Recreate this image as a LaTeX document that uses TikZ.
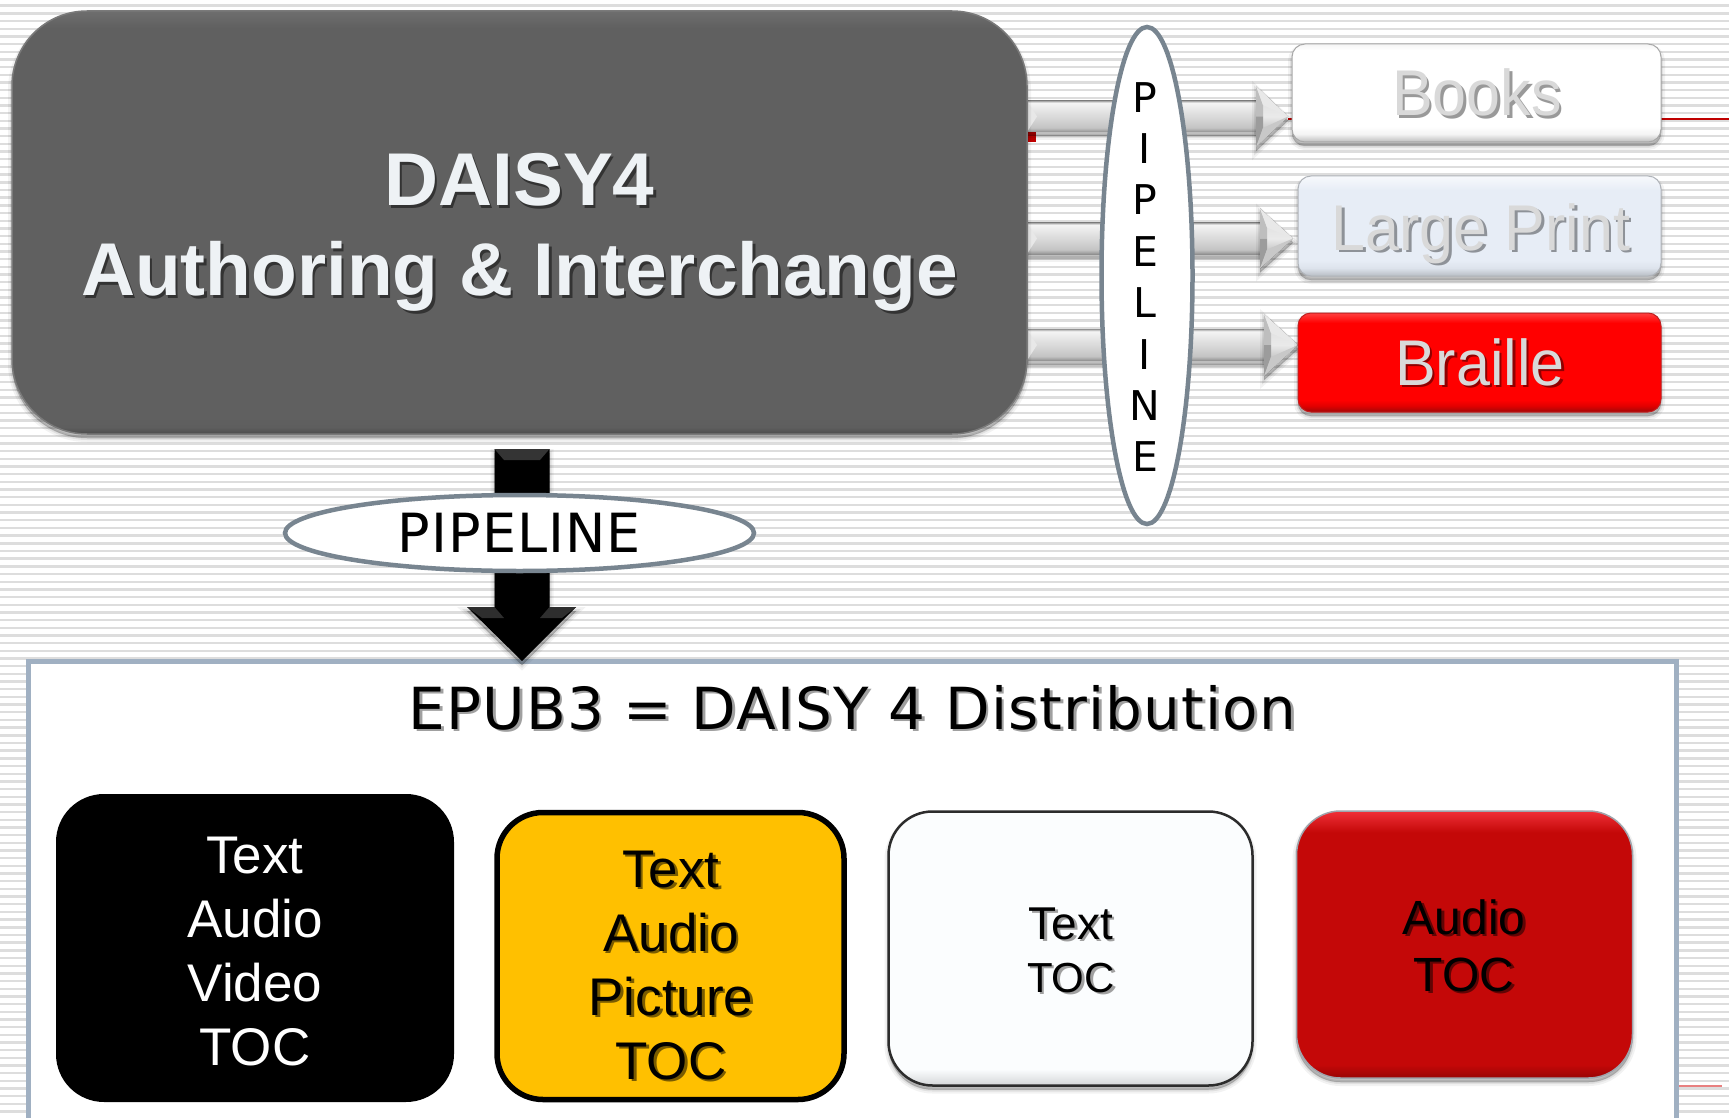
\documentclass[tikz,border=0pt]{standalone}
\usepackage{fontspec}
\setmainfont{Liberation Sans}
\newfontfamily\lucidalike{DejaVu Sans}
\newfontfamily\lucidaspaced[LetterSpace=2]{DejaVu Sans}
\usetikzlibrary{shapes.geometric,calc}
\newcommand{\dc}[1]{\definecolor{c#1}{HTML}{#1}}
\dc{4C4C4C}\dc{5E5E5E}\dc{606060}\dc{6E6E6E}\dc{BDBDBD}\dc{F4F4F4}\dc{FFFFFF}\dc{B8BDC4}\dc{DDE3EC}\dc{E7EDF6}\dc{F7F9FC}
\dc{A00808}\dc{E00000}\dc{FF0000}\dc{FF4040}\dc{980404}\dc{C40808}\dc{F03038}\dc{D4D6D8}\dc{FBFDFE}
\dc{909090}\dc{A8A8A8}\dc{C4C4C4}\dc{C8C8C8}\dc{AAAAAA}\dc{A0A0A0}\dc{C0C0C0}\dc{EAEAEA}\dc{D8D8D8}\dc{BEBEBE}\dc{9C9C9C}\dc{E8E8E8}
\dc{DDDDDD}\dc{A0B0C2}\dc{788590}\dc{D9D9D9}\dc{EEF2F5}\dc{C00000}
\dc{E88080}\dc{343434}\dc{2E2E2E}\dc{7A7A7A}\dc{FFC000}\dc{2C2C2C}\dc{A0A4AC}\dc{B0B4BA}\dc{C02020}
\dc{333333}\dc{8E9298}\dc{900000}\dc{7A5C00}\dc{600404}\dc{999999}
\colorlet{shcol}{gray}
\pgfdeclareverticalshading{mainshade}{100bp}{color(0bp)=(c4C4C4C);color(25bp)=(c4C4C4C);color(25.8bp)=(c5E5E5E);color(27bp)=(c606060);color(73bp)=(c606060);color(75bp)=(c6E6E6E);color(100bp)=(c6E6E6E)}
\pgfdeclareverticalshading{booksshade}{100bp}{color(0bp)=(cBDBDBD);color(25bp)=(cBDBDBD);color(29bp)=(cF4F4F4);color(33bp)=(cFFFFFF);color(72bp)=(cFFFFFF);color(75bp)=(cF4F4F4);color(100bp)=(cF4F4F4)}
\pgfdeclareverticalshading{lpshade}{100bp}{color(0bp)=(cB8BDC4);color(25bp)=(cB8BDC4);color(29bp)=(cDDE3EC);color(33bp)=(cE7EDF6);color(68bp)=(cE7EDF6);color(75bp)=(cF7F9FC);color(100bp)=(cF7F9FC)}
\pgfdeclareverticalshading{brailleshade}{100bp}{color(0bp)=(cA00808);color(25bp)=(cA00808);color(28bp)=(cE00000);color(31bp)=(cFF0000);color(70bp)=(cFF0000);color(75bp)=(cFF4040);color(100bp)=(cFF4040)}
\pgfdeclareverticalshading{redshade}{100bp}{color(0bp)=(c980404);color(25bp)=(c980404);color(27.5bp)=(cC40808);color(71bp)=(cC40808);color(75bp)=(cF03038);color(100bp)=(cF03038)}
\pgfdeclareverticalshading{whiteshade}{100bp}{color(0bp)=(cD4D6D8);color(25bp)=(cD4D6D8);color(28bp)=(cFBFDFE);color(100bp)=(cFBFDFE)}
\pgfdeclareverticalshading{shaftshade}{100bp}{color(0bp)=(c909090);color(25bp)=(c909090);color(28bp)=(cA8A8A8);color(32bp)=(cC4C4C4);color(72bp)=(cF4F4F4);color(74bp)=(cC8C8C8);color(75bp)=(cAAAAAA);color(100bp)=(cAAAAAA)}
\pgfdeclareverticalshading{headshade}{100bp}{color(0bp)=(cA0A0A0);color(25bp)=(cA0A0A0);color(38bp)=(cC0C0C0);color(50bp)=(cEAEAEA);color(75bp)=(cD8D8D8);color(100bp)=(cD8D8D8)}
\newcommand{\shtxt}[1]{\leavevmode\rlap{\raisebox{-2.5pt}{\hspace{2.5pt}\textcolor{shcol}{#1}}}#1}
% gray block arrow between two named coordinates: from, to, head length, half head
\newcommand{\grayarrow}[4]{%
  \fill[softsh,shade,shading=shaftshade] ($(#1)+(0,-15.5)$) -- ($(#2)+(-#3,-15.5)$) -- ($(#2)+(-#3,15.5)$) -- ($(#1)+(0,15.5)$) -- cycle;
  \fill[softsh,shade,shading=headshade] ($(#2)+(-#3,-#4)$) -- (#2) -- ($(#2)+(-#3,#4)$) -- cycle;
  \fill[cBEBEBE] ($(#2)+(-#3,-#4)$) -- ($(#2)+(-#3+7,-#4+19)$) -- ($(#2)+(-#3+7,0)$) -- ($(#2)+(-#3,0)$) -- cycle;
  \fill[cE8E8E8] ($(#2)+(-#3,-#4)$) -- (#2) -- ($(#2)+(-#3+7,-#4+19)$) -- cycle;
  \fill[c9C9C9C] ($(#2)+(-#3,#4)$) -- ($(#2)+(-#3+7,#4-19)$) -- ($(#2)+(-#3+7,0)$) -- ($(#2)+(-#3,0)$) -- cycle;
  \fill[cC8C8C8] ($(#2)+(-#3,#4)$) -- (#2) -- ($(#2)+(-#3+7,#4-19)$) -- cycle;
  \fill[cE8E8E8] ($(#1)+(0,-15.5)$) -- ($(#1)+(10,0)$) -- ($(#1)+(0,15.5)$) -- cycle;
}
\tikzset{
  softsh/.style={
    preaction={draw=black,fill=black,opacity=.05,line width=8pt,transform canvas={yshift=-4pt}},
    preaction={draw=black,fill=black,opacity=.07,line width=4pt,transform canvas={yshift=-4pt}},
    preaction={draw=black,fill=black,opacity=.10,line width=1pt,transform canvas={yshift=-4pt}}},
  boxbase/.style={rectangle,inner sep=0pt,softsh},
  ell/.style={ellipse,draw=c788590,line width=4.5pt,fill=white,inner sep=0pt},
  txt/.style={inner sep=0pt,align=center},
  ltxt/.style={inner sep=0pt,anchor=base},
  tallbtn/.style={yscale=1.06,transform shape},
  shc/.style={execute at begin node={\colorlet{shcol}{#1}}},
}
\begin{document}
\begin{tikzpicture}[x=1pt,y=-1pt]
\useasboundingbox (0,0) rectangle (1729,1118);
\fill[white] (0,0) rectangle (1729,1118);
\foreach \i in {0,...,145} \fill[cDDDDDD] (0,{4.5+7.68*\i}) rectangle (1729,{6.9+7.68*\i});
% stray red lines of the slide master
\draw[cC00000,line width=2pt] (1288,119) -- (1296,119);
\draw[cC00000,line width=2pt] (1655,119) -- (1729,119);
\fill[cC00000] (1026,131) rectangle (1036,142);
% frame
\fill[white] (28.5,661) rectangle (1676.5,1118);
\draw[cA0B0C2,line width=5pt] (28.5,1118) -- (28.5,661) -- (1676.5,661) -- (1676.5,1118);
\draw[cE88080,line width=2pt] (1679,1086) -- (1722,1086);
% gray arrows
\coordinate (a1s) at (1027,116.5); \coordinate (a1t) at (1288,116.5);
\coordinate (a2s) at (1027,238.5); \coordinate (a2t) at (1293,238.5);
\coordinate (a3s) at (1027,345); \coordinate (a3t) at (1298,345);
\grayarrow{a1s}{a1t}{32}{30.5}
\grayarrow{a2s}{a2t}{33}{30}
\grayarrow{a3s}{a3t}{34}{31}
% main box
\node[boxbase,minimum width=1015pt,minimum height=423pt,rounded corners=75pt,draw=c7A7A7A,line width=1.5pt,shading=mainshade] (main) at (519.5,222.5) {};
% output boxes
\node[boxbase,minimum width=369pt,minimum height=98pt,rounded corners=13pt,draw=cA8A8A8,line width=1pt,shading=booksshade] (books) at (1476.5,93) {};
\node[boxbase,minimum width=363pt,minimum height=100pt,rounded corners=13pt,draw=cB0B4BA,line width=1pt,shading=lpshade] (lp) at (1479.5,226) {};
\node[boxbase,minimum width=363pt,minimum height=99pt,rounded corners=13pt,draw=cC02020,line width=1pt,shading=brailleshade] (braille) at (1479.5,362.5) {};
% black arrow
\coordinate (kt) at (522,449); \coordinate (kh) at (522,661);
\fill[softsh,black] ($(kt)+(-27.5,0)$) -- ($(kt)+(27.5,0)$) -- ($(kh)+(27.5,-54)$) -- ($(kh)+(54,-54)$) -- (kh) -- ($(kh)+(-55,-54)$) -- ($(kh)+(-27.5,-54)$) -- cycle;
\fill[c343434] ($(kt)+(-27.5,0)$) -- ($(kt)+(27.5,0)$) -- ($(kt)+(18,11)$) -- ($(kt)+(-18,11)$) -- cycle;
\fill[c2E2E2E] ($(kh)+(-55,-54)$) -- ($(kh)+(-27.5,-54)$) -- ($(kh)+(-18,-43)$) -- ($(kh)+(-40,-43)$) -- cycle;
\fill[c2E2E2E] ($(kh)+(54,-54)$) -- ($(kh)+(27.5,-54)$) -- ($(kh)+(18,-43)$) -- ($(kh)+(40,-43)$) -- cycle;
% ellipses
\node[ell,minimum width=91pt,minimum height=497pt] (pv) at (1147,275.5) {};
\node[ell,minimum width=469pt,minimum height=76pt,font=\lucidaspaced\fontsize{54}{60}\selectfont] (ph) at (519.5,533) {\raisebox{-4pt}{PIPELINE}};
\node[txt,font=\lucidalike\fontsize{41}{51.4}\selectfont] (pvt) at (1145,277) {P\\I\\P\\E\\L\\I\\N\\E};
% bottom boxes
\node[rectangle,inner sep=0pt,fill=black,minimum width=398pt,minimum height=308pt,rounded corners=48pt] (bk) at (255,948) {};
\node[rectangle,inner sep=0pt,fill=cFFC000,draw=black,line width=5.5pt,minimum width=347pt,minimum height=287pt,rounded corners=46pt] (yl) at (670.5,956) {};
\node[boxbase,draw=c2C2C2C,line width=2.5pt,shading=whiteshade,minimum width=364pt,minimum height=274pt,rounded corners=44pt] (wh) at (1070.5,948.5) {};
\node[boxbase,draw=cA0A4AC,line width=1.5pt,shading=redshade,minimum width=336pt,minimum height=267pt,rounded corners=44pt] (rd) at (1464.5,944.5) {};
% texts
\node[txt,text=cEEF2F5,font=\bfseries\fontsize{74.8}{90}\selectfont,shc=c333333] (mt) at (519.5,234) {\shtxt{DAISY4}\\\shtxt{Authoring \& Interchange}};
\node[ltxt,tallbtn,text=cD9D9D9,font=\fontsize{61}{70}\selectfont,shc=c999999] (bt) at (1477,116) {\shtxt{Books}};
\node[ltxt,tallbtn,text=cD9D9D9,font=\fontsize{61}{70}\selectfont,shc=c8E9298] (lt) at (1481,250) {\shtxt{Large Print}};
\node[ltxt,tallbtn,text=cD9D9D9,font=\fontsize{61}{70}\selectfont,shc=c900000] (rt) at (1480,385) {\shtxt{Braille}};
\node[ltxt,text=black,font=\lucidaspaced\fontsize{58}{66}\selectfont,shc=cA0A0A0] (tt) at (852.5,729) {\shtxt{EPUB3 = DAISY 4 Distribution}};
\node[txt,text=white,font=\fontsize{53}{64}\selectfont] (bkt) at (255,952) {Text\\Audio\\Video\\TOC};
\node[txt,text=black,font=\fontsize{53}{64}\selectfont,shc=c7A5C00] (ylt) at (671,966.3) {\shtxt{Text}\\\shtxt{Audio}\\\shtxt{Picture}\\\shtxt{TOC}};
\node[txt,text=black,font=\fontsize{46}{53}\selectfont,shc=cA0A0A0] (wht) at (1071,951.5) {\shtxt{Text}\\\fontsize{42}{53}\selectfont\shtxt{TOC}};
\node[txt,text=black,font=\fontsize{48}{57}\selectfont,shc=c600404] (rdt) at (1464,947) {\shtxt{Audio}\\\shtxt{TOC}};
\end{tikzpicture}
\end{document}
